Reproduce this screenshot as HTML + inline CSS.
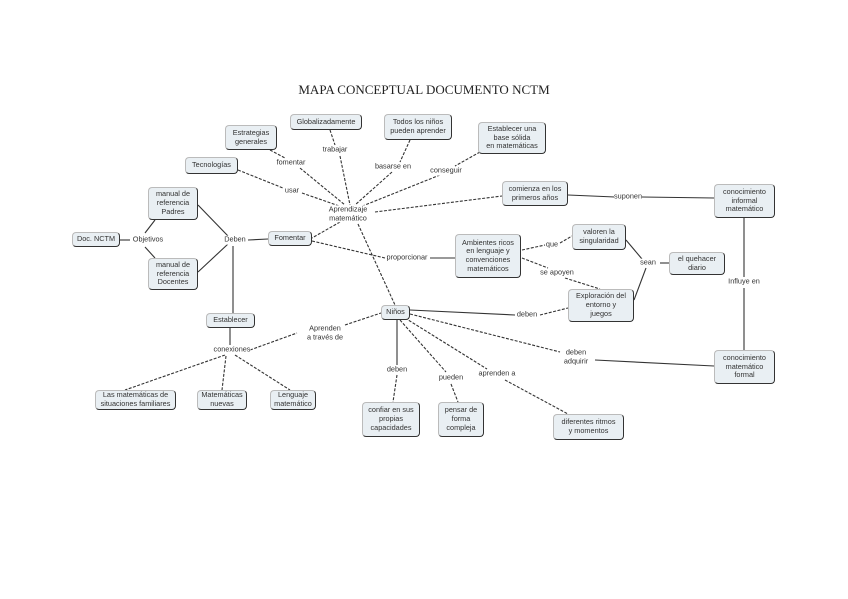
<!DOCTYPE html>
<html><head><meta charset="utf-8"><style>
body{margin:0;width:848px;height:599px;background:#fff;position:relative;overflow:hidden;font-family:"Liberation Sans",sans-serif;}
.t{position:absolute;left:0;width:848px;top:82px;text-align:center;font-family:"Liberation Serif",serif;font-size:13px;color:#222;}
.n{position:absolute;display:flex;align-items:center;justify-content:center;text-align:center;font-size:7.3px;line-height:8.7px;color:#333;background:#e9eff3;border:1px solid #bbb;border-right:1.5px solid #333;border-bottom:1.5px solid #333;border-radius:4px;box-sizing:border-box;}
.l{position:absolute;font-size:7.3px;line-height:8.7px;color:#333;text-align:center;transform:translate(-50%,-50%);white-space:nowrap;background:#fff;}
svg{position:absolute;left:0;top:0}
</style></head><body>
<div class="t">MAPA CONCEPTUAL DOCUMENTO NCTM</div>
<svg width="848" height="599" stroke="#333" stroke-width="1.1" fill="none">
<g stroke-dasharray="3,1.5">
<line x1="270" y1="150" x2="285" y2="158"/><line x1="300" y1="168" x2="345" y2="205"/>
<line x1="330" y1="130" x2="335" y2="145"/><line x1="340" y1="156" x2="350" y2="205"/>
<line x1="410" y1="140" x2="400" y2="162"/><line x1="392" y1="172" x2="355" y2="205"/>
<line x1="480" y1="152" x2="455" y2="166"/><line x1="440" y1="175" x2="360" y2="207"/>
<line x1="238" y1="170" x2="283" y2="188"/><line x1="302" y1="193" x2="345" y2="208"/>
<line x1="375" y1="212" x2="502" y2="196"/>
<line x1="340" y1="222" x2="312" y2="238"/>
<line x1="358" y1="224" x2="395" y2="305"/>
<line x1="312" y1="241" x2="385" y2="258"/>
<line x1="522" y1="250" x2="545" y2="245"/><line x1="560" y1="243" x2="572" y2="236"/>
<line x1="522" y1="258" x2="548" y2="268"/><line x1="565" y1="278" x2="600" y2="289"/>
<line x1="250" y1="350" x2="297" y2="333"/><line x1="345" y1="325" x2="381" y2="313"/>
<line x1="225" y1="355" x2="125" y2="390"/><line x1="226" y1="356" x2="222" y2="390"/><line x1="235" y1="355" x2="290" y2="390"/>
<line x1="540" y1="315" x2="568" y2="308"/>
<line x1="410" y1="314" x2="560" y2="352"/>
<line x1="400" y1="320" x2="446" y2="372"/><line x1="451" y1="384" x2="458" y2="402"/>
<line x1="405" y1="318" x2="487" y2="369"/><line x1="505" y1="380" x2="568" y2="414"/>
<line x1="397" y1="375" x2="393" y2="402"/>
</g>
<line x1="568" y1="195" x2="615" y2="197"/><line x1="642" y1="197" x2="714" y2="198"/>
<line x1="430" y1="258" x2="455" y2="258"/>
<line x1="626" y1="240" x2="642" y2="259"/><line x1="634" y1="300" x2="646" y2="268"/><line x1="660" y1="263" x2="669" y2="263"/>
<line x1="744" y1="218" x2="744" y2="277"/><line x1="744" y1="288" x2="744" y2="350"/>
<line x1="120" y1="240" x2="130" y2="240"/>
<line x1="145" y1="233" x2="155" y2="220"/><line x1="145" y1="247" x2="155" y2="258"/>
<line x1="198" y1="205" x2="228" y2="236"/><line x1="198" y1="272" x2="228" y2="244"/>
<line x1="248" y1="240" x2="268" y2="239"/>
<line x1="233" y1="246" x2="233" y2="313"/><line x1="230" y1="328" x2="230" y2="345"/>
<line x1="410" y1="310" x2="515" y2="315"/>
<line x1="595" y1="360" x2="714" y2="366"/>
<line x1="397" y1="320" x2="397" y2="365"/>
</svg>
<div class="n" style="left:290px;top:114px;width:72px;height:16px">Globalizadamente</div>
<div class="n" style="left:225px;top:125px;width:52px;height:25px">Estrategias<br>generales</div>
<div class="n" style="left:384px;top:114px;width:68px;height:26px">Todos los niños<br>pueden aprender</div>
<div class="n" style="left:478px;top:122px;width:68px;height:32px">Establecer una<br>base sólida<br>en matemáticas</div>
<div class="n" style="left:185px;top:157px;width:53px;height:17px">Tecnologías</div>
<div class="n" style="left:502px;top:181px;width:66px;height:25px">comienza en los<br>primeros años</div>
<div class="n" style="left:714px;top:184px;width:61px;height:34px">conocimiento<br>informal<br>matemático</div>
<div class="n" style="left:148px;top:187px;width:50px;height:33px">manual de<br>referencia<br>Padres</div>
<div class="n" style="left:72px;top:232px;width:48px;height:15px">Doc. NCTM</div>
<div class="n" style="left:268px;top:231px;width:44px;height:15px">Fomentar</div>
<div class="n" style="left:455px;top:234px;width:66px;height:44px">Ambientes ricos<br>en lenguaje y<br>convenciones<br>matemáticos</div>
<div class="n" style="left:572px;top:224px;width:54px;height:26px">valoren la<br>singularidad</div>
<div class="n" style="left:669px;top:252px;width:56px;height:23px">el quehacer<br>diario</div>
<div class="n" style="left:148px;top:258px;width:50px;height:32px">manual de<br>referencia<br>Docentes</div>
<div class="n" style="left:568px;top:289px;width:66px;height:33px">Exploración del<br>entorno y<br>juegos</div>
<div class="n" style="left:206px;top:313px;width:49px;height:15px">Establecer</div>
<div class="n" style="left:381px;top:305px;width:29px;height:15px">Niños</div>
<div class="n" style="left:714px;top:350px;width:61px;height:34px">conocimiento<br>matemático<br>formal</div>
<div class="n" style="left:95px;top:390px;width:81px;height:20px">Las matemáticas de<br>situaciones familiares</div>
<div class="n" style="left:197px;top:390px;width:50px;height:20px">Matemáticas<br>nuevas</div>
<div class="n" style="left:270px;top:390px;width:46px;height:20px">Lenguaje<br>matemático</div>
<div class="n" style="left:362px;top:402px;width:58px;height:35px">confiar en sus<br>propias<br>capacidades</div>
<div class="n" style="left:438px;top:402px;width:46px;height:35px">pensar de<br>forma<br>compleja</div>
<div class="n" style="left:553px;top:414px;width:71px;height:26px">diferentes ritmos<br>y momentos</div>
<div class="l" style="left:335px;top:150px">trabajar</div>
<div class="l" style="left:291px;top:163px">fomentar</div>
<div class="l" style="left:393px;top:167px">basarse en</div>
<div class="l" style="left:446px;top:171px">conseguir</div>
<div class="l" style="left:292px;top:191px">usar</div>
<div class="l" style="left:348px;top:214px">Aprendizaje<br>matemático</div>
<div class="l" style="left:628px;top:197px">suponen</div>
<div class="l" style="left:148px;top:240px">Objetivos</div>
<div class="l" style="left:235px;top:240px">Deben</div>
<div class="l" style="left:407px;top:258px">proporcionar</div>
<div class="l" style="left:552px;top:245px">que</div>
<div class="l" style="left:648px;top:263px">sean</div>
<div class="l" style="left:557px;top:273px">se apoyen</div>
<div class="l" style="left:744px;top:282px">Influye en</div>
<div class="l" style="left:527px;top:315px">deben</div>
<div class="l" style="left:325px;top:333px">Aprenden<br>a través de</div>
<div class="l" style="left:232px;top:350px">conexiones</div>
<div class="l" style="left:576px;top:357px">deben<br>adquirir</div>
<div class="l" style="left:397px;top:370px">deben</div>
<div class="l" style="left:451px;top:378px">pueden</div>
<div class="l" style="left:497px;top:374px">aprenden a</div>
</body></html>
